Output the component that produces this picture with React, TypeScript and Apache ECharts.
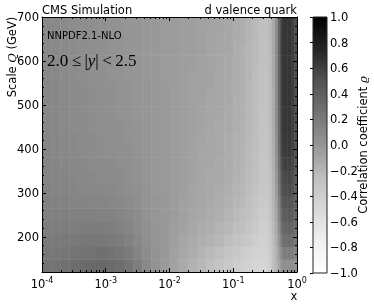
import { useEffect, useRef } from 'react';
import * as echarts from 'echarts';

// x bin edges (log spaced below 0.1, finer above)
const xEdges = [
  1e-4, 1.39e-4, 1.93e-4, 2.68e-4, 3.73e-4, 5.18e-4, 7.2e-4,
  1e-3, 1.39e-3, 1.93e-3, 2.68e-3, 3.73e-3, 5.18e-3, 7.2e-3,
  0.01, 0.0139, 0.0193, 0.0268, 0.0373, 0.0518, 0.072,
  0.1, 0.13, 0.16, 0.2, 0.25, 0.3, 0.35, 0.4, 0.45, 0.5, 0.55, 0.6, 0.7, 0.8, 0.9, 1.0,
];

// scale Q bin edges (GeV)
const qEdges = [120, 149, 178, 207, 236, 265, 294, 323, 352, 381, 410, 439, 468, 497, 526, 555, 584, 613, 642, 671, 700];

// correlation coefficient, rows from lowest Q to highest Q, columns follow xEdges
const correlation: number[][] = [
  [.24,.25,.27,.29,.31,.32,.33,.32,.29,.24,.17,.10,.03,-.03, -.08,-.13,-.18,-.22,-.27,-.31,-.35, -.39,-.42,-.45,-.47,-.47,-.46,-.40,-.28, -.20,-.10,.02,.05,.06,.05,.03],
  [.22,.22,.23,.24,.25,.26,.27,.26,.23,.19,.13,.07,.02,-.02, -.07,-.11,-.15,-.19,-.23,-.27,-.31, -.35,-.38,-.41,-.44,-.45,-.45,-.39,-.27, -.17,-.05,.11,.17,.18,.16,.13],
  [.20,.20,.21,.21,.22,.22,.22,.21,.19,.15,.10,.05,.01,-.02, -.06,-.10,-.13,-.16,-.19,-.22,-.26, -.30,-.33,-.36,-.40,-.43,-.43,-.37,-.25, -.14,.01,.20,.28,.29,.27,.22],
  [.18,.18,.18,.18,.18,.18,.18,.17,.15,.12,.08,.04,.01,-.02, -.05,-.08,-.11,-.14,-.16,-.19,-.22, -.26,-.29,-.32,-.37,-.41,-.41,-.36,-.23, -.12,.06,.27,.35,.36,.34,.29],
  [.16,.16,.16,.15,.15,.15,.14,.14,.12,.10,.07,.03,.00,-.02, -.04,-.07,-.10,-.12,-.14,-.16,-.19, -.23,-.26,-.29,-.34,-.38,-.39,-.34,-.21, -.10,.11,.33,.42,.43,.40,.34],
  [.15,.14,.14,.13,.13,.12,.12,.11,.10,.08,.05,.02,.00,-.02, -.04,-.07,-.09,-.11,-.13,-.15,-.17, -.21,-.24,-.27,-.32,-.36,-.37,-.32,-.20, -.07,.16,.39,.47,.48,.45,.38],
  [.14,.13,.13,.12,.11,.10,.10,.09,.08,.06,.04,.02,-.01,-.02, -.04,-.06,-.09,-.11,-.12,-.14,-.16, -.19,-.22,-.25,-.30,-.34,-.35,-.31,-.19, -.04,.20,.44,.52,.53,.49,.42],
  [.13,.12,.12,.11,.10,.09,.08,.08,.07,.05,.03,.01,-.01,-.02, -.04,-.06,-.08,-.10,-.12,-.13,-.15, -.18,-.21,-.24,-.29,-.33,-.34,-.30,-.18, -.02,.23,.48,.55,.56,.52,.45],
  [.13,.12,.11,.10,.09,.08,.07,.07,.06,.05,.03,.01,-.01,-.02, -.04,-.06,-.08,-.10,-.11,-.13,-.14, -.18,-.20,-.23,-.28,-.32,-.33,-.29,-.17, .00,.27,.52,.60,.60,.56,.48],
  [.12,.11,.10,.09,.08,.07,.06,.06,.05,.04,.02,.01,-.01,-.02, -.04,-.06,-.08,-.10,-.11,-.12,-.14, -.17,-.20,-.23,-.27,-.31,-.32,-.28,-.16, .02,.30,.56,.62,.63,.58,.50],
  [.12,.11,.10,.09,.08,.07,.06,.05,.04,.03,.02,.00,-.01,-.02, -.04,-.06,-.08,-.09,-.11,-.12,-.14, -.17,-.19,-.22,-.27,-.31,-.32,-.27,-.15, .03,.32,.58,.64,.64,.59,.51],
  [.11,.10,.09,.08,.07,.06,.05,.05,.04,.03,.02,.00,-.01,-.02, -.04,-.06,-.07,-.09,-.10,-.12,-.13, -.16,-.19,-.22,-.26,-.30,-.31,-.27,-.15, .04,.33,.59,.65,.65,.60,.52],
  [.11,.10,.09,.08,.07,.06,.05,.04,.03,.02,.01,.00,-.01,-.02, -.04,-.06,-.07,-.09,-.10,-.11,-.13, -.16,-.18,-.21,-.26,-.30,-.31,-.26,-.14, .05,.34,.60,.65,.65,.60,.52],
  [.11,.10,.09,.08,.07,.06,.05,.04,.03,.02,.01,.00,-.01,-.02, -.04,-.05,-.07,-.08,-.10,-.11,-.12, -.16,-.18,-.21,-.25,-.29,-.30,-.26,-.14, .05,.35,.61,.66,.66,.61,.53],
  [.11,.10,.09,.08,.07,.06,.05,.04,.03,.02,.01,.00,-.01,-.02, -.04,-.05,-.07,-.08,-.09,-.11,-.12, -.15,-.18,-.21,-.25,-.29,-.30,-.25,-.14, .05,.35,.61,.66,.66,.61,.53],
  [.10,.09,.08,.07,.06,.05,.04,.03,.02,.01,.00,-.01,-.02,-.03, -.04,-.05,-.07,-.08,-.09,-.11,-.12, -.15,-.17,-.20,-.25,-.29,-.30,-.25,-.13, .05,.35,.61,.66,.66,.61,.53],
  [.10,.09,.08,.07,.06,.05,.04,.03,.02,.01,.00,-.01,-.02,-.03, -.04,-.05,-.06,-.08,-.09,-.10,-.12, -.15,-.17,-.20,-.24,-.28,-.29,-.25,-.13, .05,.36,.61,.66,.66,.61,.53],
  [.10,.09,.08,.07,.06,.05,.04,.03,.02,.01,.00,-.01,-.02,-.03, -.04,-.05,-.06,-.07,-.09,-.10,-.11, -.15,-.17,-.20,-.24,-.28,-.29,-.24,-.13, .05,.36,.61,.66,.66,.61,.53],
  [.10,.09,.08,.07,.06,.05,.04,.03,.02,.01,.00,-.01,-.02,-.03, -.04,-.05,-.06,-.07,-.09,-.10,-.11, -.14,-.16,-.19,-.23,-.27,-.28,-.24,-.13, .05,.36,.61,.66,.66,.61,.53],
  [.10,.09,.08,.07,.06,.05,.04,.03,.02,.01,.00,-.01,-.02,-.03, -.04,-.05,-.06,-.07,-.08,-.09,-.11, -.14,-.16,-.19,-.23,-.27,-.28,-.24,-.13, .05,.36,.60,.66,.66,.61,.53],
];

const xMajorTicks = [1e-4, 1e-3, 1e-2, 1e-1, 1];
const xMinorTicks = [
  2e-4, 3e-4, 4e-4, 5e-4, 6e-4, 7e-4, 8e-4, 9e-4,
  2e-3, 3e-3, 4e-3, 5e-3, 6e-3, 7e-3, 8e-3, 9e-3,
  0.02, 0.03, 0.04, 0.05, 0.06, 0.07, 0.08, 0.09,
  0.2, 0.3, 0.4, 0.5, 0.6, 0.7, 0.8, 0.9,
];
const qMajorTicks = [200, 300, 400, 500, 600, 700];
const qMinorTicks = [140, 160, 180, 220, 240, 260, 280, 320, 340, 360, 380, 420, 440, 460, 480, 520, 540, 560, 580, 620, 640, 660, 680];
const colorbarRange = [-1, 1];
const greys = ['#ffffff', '#f0f0f0', '#d9d9d9', '#bdbdbd', '#969696', '#737373', '#525252', '#252525', '#000000'];

const FONT = 'DejaVu Sans';

export default function App() {
  const ref = useRef<HTMLDivElement>(null);
  useEffect(() => {
    const chart = echarts.init(ref.current!, null, { renderer: 'svg' });

    const cells: number[][] = [];
    for (let r = 0; r < correlation.length; r++) {
      for (let c = 0; c < correlation[r].length; c++) {
        cells.push([xEdges[c], xEdges[c + 1], qEdges[r], qEdges[r + 1], correlation[r][c]]);
      }
    }

    const tickLine = { color: '#000', width: 1 };
    const logAxis = (position: string, major: boolean, labels: boolean) => ({
      type: 'log',
      logBase: 10,
      gridIndex: 0,
      min: 1e-4,
      max: 1,
      position,
      z: 10,
      axisLine: { show: major, onZero: false, lineStyle: { color: '#000', width: 1 } },
      axisTick: {
        show: true,
        inside: true,
        length: major ? 4 : 2,
        lineStyle: tickLine,
        customValues: major ? xMajorTicks : xMinorTicks,
      },
      axisLabel: labels
        ? {
            show: true,
            customValues: xMajorTicks,
            margin: 4,
            formatter: (v: number) => `{b|10}{s|${Math.round(Math.log10(v))}}`,
            rich: {
              b: { fontFamily: FONT, fontSize: 11.5, color: '#000', lineHeight: 15 },
              s: { fontFamily: FONT, fontSize: 8, color: '#000', verticalAlign: 'top', lineHeight: 9 },
            },
          }
        : { show: false },
      splitLine: { show: false },
    });
    const qAxis = (position: string, major: boolean, labels: boolean) => ({
      type: 'value',
      gridIndex: 0,
      min: 120,
      max: 700,
      position,
      z: 10,
      axisLine: { show: major, onZero: false, lineStyle: { color: '#000', width: 1 } },
      axisTick: {
        show: true,
        inside: true,
        length: major ? 4 : 2,
        lineStyle: tickLine,
        customValues: major ? qMajorTicks : qMinorTicks,
      },
      axisLabel: labels
        ? { show: true, customValues: qMajorTicks, margin: 3, fontFamily: FONT, fontSize: 11.5, color: '#000' }
        : { show: false },
      splitLine: { show: false },
    });

    const option: any = {
      animation: false,
      textStyle: { fontFamily: FONT },
      grid: [
        { left: 42, top: 17, width: 255, height: 255 },
        { left: 313, top: 17, width: 14, height: 256 },
      ],
      xAxis: [
        logAxis('bottom', true, true),
        logAxis('bottom', false, false),
        logAxis('top', true, false),
        logAxis('top', false, false),
        { type: 'value', gridIndex: 1, min: 0, max: 1, show: false },
      ],
      yAxis: [
        qAxis('left', true, true),
        qAxis('left', false, false),
        qAxis('right', true, false),
        qAxis('right', false, false),
        {
          type: 'value',
          gridIndex: 1,
          min: colorbarRange[0],
          max: colorbarRange[1],
          interval: 0.2,
          position: 'right',
          z: 10,
          axisLine: { show: false },
          axisTick: { show: true, inside: true, length: 3, lineStyle: tickLine },
          axisLabel: {
            margin: 3,
            fontFamily: FONT,
            fontSize: 11.5,
            color: '#000',
            formatter: (v: number) => (Math.abs(v) < 1e-9 ? '0.0' : (v < 0 ? '\u2212' : '') + Math.abs(v).toFixed(1)),
          },
          splitLine: { show: false },
        },
      ],
      visualMap: {
        type: 'continuous',
        show: false,
        min: -1,
        max: 1,
        dimension: 4,
        seriesIndex: 0,
        inRange: { color: greys },
      },
      series: [
        {
          type: 'custom',
          xAxisIndex: 0,
          yAxisIndex: 0,
          clip: true,
          encode: { x: [0, 1], y: [2, 3] },
          data: cells,
          renderItem: (params: any, api: any) => {
            const p0 = api.coord([api.value(0), api.value(2)]);
            const p1 = api.coord([api.value(1), api.value(3)]);
            return {
              type: 'rect',
              shape: { x: p0[0], y: p1[1], width: p1[0] - p0[0] + 0.5, height: p0[1] - p1[1] + 0.5 },
              style: { fill: api.visual('color') },
            };
          },
        },
        {
          type: 'custom',
          xAxisIndex: 4,
          yAxisIndex: 4,
          encode: { x: [0, 1], y: [2, 3] },
          data: [[0, 1, colorbarRange[0], colorbarRange[1]]],
          renderItem: (params: any, api: any) => {
            const p0 = api.coord([api.value(0), api.value(2)]);
            const p1 = api.coord([api.value(1), api.value(3)]);
            return {
              type: 'rect',
              shape: { x: p0[0], y: p1[1], width: p1[0] - p0[0], height: p0[1] - p1[1] },
              style: {
                fill: new echarts.graphic.LinearGradient(
                  0, 1, 0, 0,
                  greys.map((c, i) => ({ offset: i / (greys.length - 1), color: c }))
                ),
                stroke: '#222',
                lineWidth: 1,
              },
            };
          },
        },
      ],
      graphic: [
        { type: 'text', x: 42, y: 10, z: 20, style: { text: 'CMS Simulation', fontFamily: FONT, fontSize: 11.5, fill: '#000', align: 'left', verticalAlign: 'middle' } },
        { type: 'text', x: 297, y: 10, z: 20, style: { text: 'd valence quark', fontFamily: FONT, fontSize: 11.5, fill: '#000', align: 'right', verticalAlign: 'middle' } },
        { type: 'text', x: 47, y: 35, z: 20, style: { text: 'NNPDF2.1-NLO', fontFamily: FONT, fontSize: 10, fill: '#000', align: 'left', verticalAlign: 'middle' } },
        {
          type: 'text', x: 47, y: 60, z: 20,
          style: {
            text: '{n|2.0\u2009\u2264\u2009|}{i|y}{n||\u2009<\u20092.5}',
            align: 'left', verticalAlign: 'middle',
            rich: {
              n: { fontFamily: 'Liberation Serif', fontSize: 17, fill: '#000' },
              i: { fontFamily: 'Liberation Serif', fontSize: 17, fontStyle: 'italic', fill: '#000' },
            },
          },
        },
        {
          type: 'text', x: 12, y: 57, z: 20, rotation: Math.PI / 2,
          style: {
            text: '{a|Scale }{q|Q}{a| (GeV)}',
            align: 'center', verticalAlign: 'middle',
            rich: {
              a: { fontFamily: FONT, fontSize: 11.5, fill: '#000' },
              q: { fontFamily: 'DejaVu Serif', fontSize: 11.5, fontStyle: 'italic', fill: '#000' },
            },
          },
        },
        { type: 'text', x: 294, y: 296, z: 20, style: { text: 'x', fontFamily: FONT, fontSize: 11.5, fill: '#000', align: 'center', verticalAlign: 'middle' } },
        {
          type: 'text', x: 363, y: 145, z: 20, rotation: Math.PI / 2,
          style: {
            text: '{a|Correlation coefficient }{r|\u03F1}',
            align: 'center', verticalAlign: 'middle',
            rich: {
              a: { fontFamily: FONT, fontSize: 11.5, fill: '#000' },
              r: { fontFamily: 'DejaVu Serif', fontSize: 11.5, fontStyle: 'italic', fill: '#000' },
            },
          },
        },
      ],
    };
    chart.setOption(option);
    return () => chart.dispose();
  }, []);
  return <div ref={ref} style={{ position: 'fixed', left: 0, top: 0, width: 374, height: 307 }} />;
}
